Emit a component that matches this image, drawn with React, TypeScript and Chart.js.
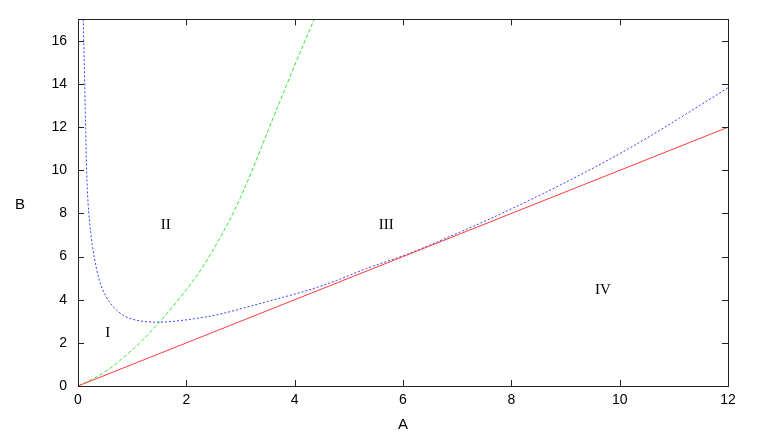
import React, { useEffect, useRef } from "react";
import { Chart, registerables } from "chart.js";

Chart.register(...registerables);

const xTicks = [0, 2, 4, 6, 8, 10, 12];
const yTicks = [0, 2, 4, 6, 8, 10, 12, 14, 16];

const lineX = [0, 12];
const lineY = [0, 12];

const greenX = [0, 0.4, 0.77, 1.14, 1.51, 1.82, 2.19, 2.56, 2.87, 3.19, 3.51, 3.85, 4.19, 4.36];
const greenY = [0, 0.5, 1.17, 2.0, 2.98, 3.9, 5.1, 6.6, 8.05, 9.85, 11.85, 13.95, 16.0, 17.0];

const blueX = [0.098, 0.123, 0.141, 0.16, 0.185, 0.234, 0.295, 0.388, 0.51, 0.665, 0.85, 1.0, 1.2, 1.5, 1.94, 2.56, 3.18, 3.79, 4.1, 4.65, 5.33, 6.13, 6.87, 7.42, 8.34, 9.27, 10.19, 11.11, 12];
const blueY = [17, 14.1, 11.94, 9.92, 8.53, 7.13, 6.05, 4.96, 4.19, 3.64, 3.26, 3.1, 3.0, 2.96, 3.05, 3.3, 3.7, 4.12, 4.33, 4.78, 5.45, 6.16, 6.94, 7.54, 8.62, 9.79, 11.04, 12.43, 13.83];

const regionLabels = ["I", "II", "III", "IV"];
const regionX = [0.55, 1.62, 5.69, 9.69];
const regionY = [2.45, 7.47, 7.47, 4.45];

const xTitle = "A";
const yTitle = "B";

const pts = (xs: number[], ys: number[]) => xs.map((x, i) => ({ x, y: ys[i] }));

const decorPlugin = {
  id: "decor",
  afterDraw(chart: any) {
    const { ctx, chartArea } = chart;
    const xs = chart.scales.x;
    const ys = chart.scales.y;
    const { left, right, top, bottom } = chartArea;
    ctx.save();
    ctx.strokeStyle = "#222";
    ctx.lineWidth = 1;
    ctx.strokeRect(Math.round(left) + 0.5, Math.round(top) + 0.5, Math.round(right - left), Math.round(bottom - top));
    const tl = 6;
    ctx.beginPath();
    xTicks.forEach((v) => {
      const px = Math.round(xs.getPixelForValue(v)) + 0.5;
      ctx.moveTo(px, bottom);
      ctx.lineTo(px, bottom - tl);
      ctx.moveTo(px, top);
      ctx.lineTo(px, top + tl);
    });
    yTicks.forEach((v) => {
      const py = Math.round(ys.getPixelForValue(v)) + 0.5;
      ctx.moveTo(left, py);
      ctx.lineTo(left + tl, py);
      ctx.moveTo(right, py);
      ctx.lineTo(right - tl, py);
    });
    ctx.stroke();

    ctx.fillStyle = "#000";
    ctx.textAlign = "center";
    ctx.textBaseline = "middle";
    ctx.font = "15px 'Liberation Serif', serif";
    regionLabels.forEach((t, i) => {
      ctx.fillText(t, xs.getPixelForValue(regionX[i]), ys.getPixelForValue(regionY[i]));
    });
    ctx.font = "15px 'Liberation Sans', sans-serif";
    ctx.fillText(xTitle, (left + right) / 2, 425);
    ctx.fillText(yTitle, 20, 205);
    ctx.restore();
  },
};

export default function App() {
  const ref = useRef<HTMLCanvasElement>(null);
  useEffect(() => {
    if (!ref.current) return;
    const chart = new Chart(ref.current, {
      type: "line",
      data: {
        datasets: [
          {
            data: pts(lineX, lineY),
            borderColor: "rgb(255,60,60)",
            borderWidth: 1,
            pointRadius: 0,
          },
          {
            data: pts(greenX, greenY),
            borderColor: "rgb(60,230,60)",
            borderWidth: 1,
            borderDash: [4, 2],
            pointRadius: 0,
            cubicInterpolationMode: "monotone",
          },
          {
            data: pts(blueX, blueY),
            borderColor: "rgb(60,60,255)",
            borderWidth: 1,
            borderDash: [2, 2],
            pointRadius: 0,
            cubicInterpolationMode: "monotone",
          },
        ],
      },
      options: {
        responsive: false,
        animation: false,
        layout: { padding: { top: 19, right: 35, left: 0, bottom: 0 } },
        plugins: { legend: { display: false }, tooltip: { enabled: false } },
        scales: {
          x: {
            type: "linear",
            min: 0,
            max: 12,
            afterBuildTicks: (s: any) => {
              s.ticks = xTicks.map((v) => ({ value: v }));
            },
            afterFit: (s: any) => {
              s.height = 50;
            },
            ticks: { color: "#000", font: { size: 14, family: "'Liberation Sans', sans-serif" }, padding: 6 },
            grid: { display: false, drawTicks: false },
            border: { display: false },
          },
          y: {
            type: "linear",
            min: 0,
            max: 17,
            afterBuildTicks: (s: any) => {
              s.ticks = yTicks.map((v) => ({ value: v }));
            },
            afterFit: (s: any) => {
              s.width = 78;
            },
            ticks: { color: "#000", font: { size: 14, family: "'Liberation Sans', sans-serif" }, padding: 11 },
            grid: { display: false, drawTicks: false },
            border: { display: false },
          },
        },
      },
      plugins: [decorPlugin],
    } as any);
    return () => chart.destroy();
  }, []);
  return (
    <div style={{ position: "absolute", left: 0, top: 0, width: 763, height: 436 }}>
      <canvas ref={ref} width={763} height={436} />
    </div>
  );
}
